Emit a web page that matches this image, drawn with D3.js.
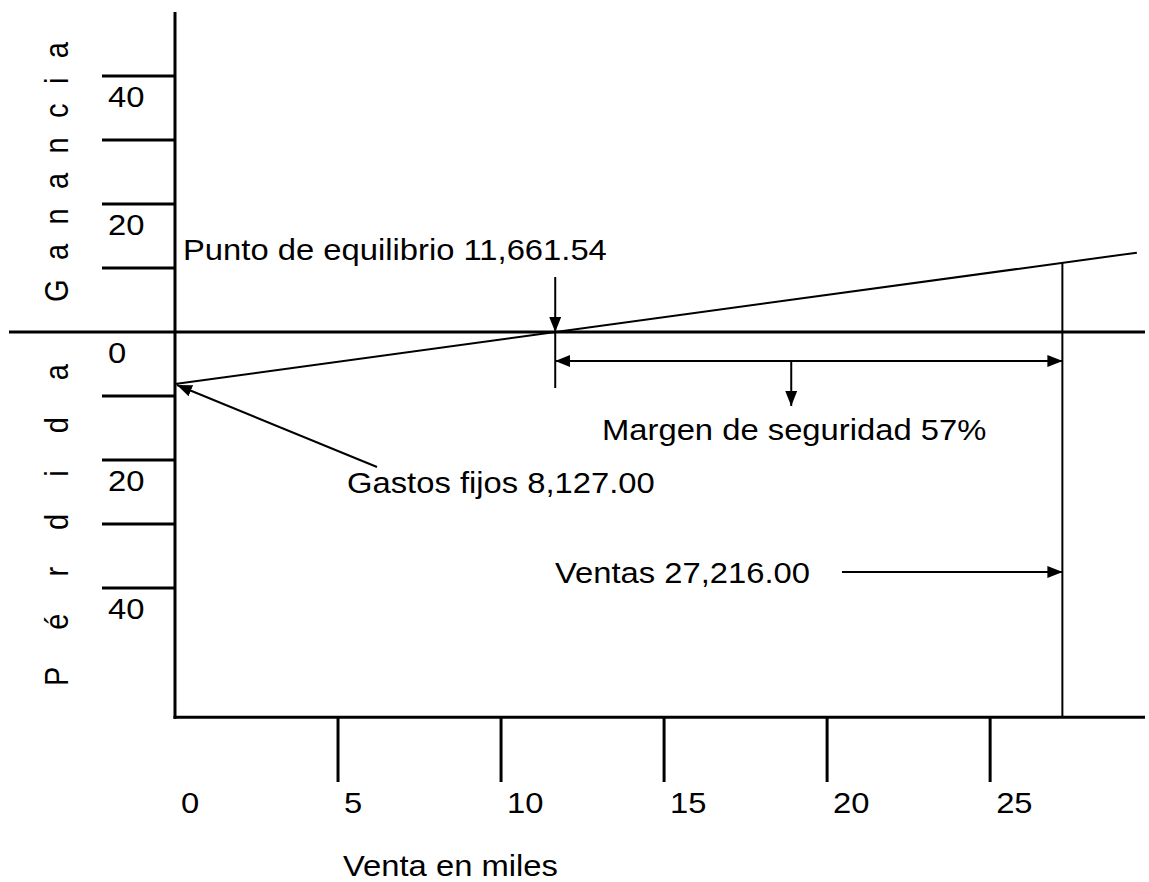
<!DOCTYPE html>
<html><head><meta charset="utf-8">
<script src="https://cdn.jsdelivr.net/npm/d3@7"></script>
<style>
body{margin:0;background:#fff}
text{font-family:"Liberation Sans",Arial,Helvetica,sans-serif;font-size:29px;fill:#000}
</style>
</head><body>
<svg id="c" width="1149" height="882"></svg>
<script>
// ---- data ----
const xTickValues = [5, 10, 15, 20, 25];
const xTickLabels = ["0", "5", "10", "15", "20", "25"];
const xLabelValues = [0, 5, 10, 15, 20, 25];
const yTickValues = [40, 30, 20, 10, -10, -20, -30, -40];
const yLabelValues = [40, 20, 0, -20, -40];
const yLabelTexts = ["40", "20", "0", "20", "40"];
const fixedCosts = 8.127;        // miles
const breakEven = 11.66154;      // miles
const sales = 27.216;            // miles
const profitAtSales = 10.84;     // miles
const profitVentas = [0, 29.5];
const profitGanancia = [-8.127, 12.4];
const marginArrowAt = 18.9;
const texts = {
  yTop: "Ganancia", yBottom: "Pérdida", xTitle: "Venta en miles",
  be: "Punto de equilibrio 11,661.54", margin: "Margen de seguridad 57%",
  fixed: "Gastos fijos 8,127.00", sales: "Ventas 27,216.00"
};

// ---- drawing ----
const SX = 1.13;
const svg = d3.select("#c");
const x = d3.scaleLinear().domain([0, 29.75]).range([175, 1145]);
const y = d3.scaleLinear().domain([-60.2, 50]).range([717.3, 12]);

const defs = svg.append("defs");
defs.append("marker").attr("id", "ah")
  .attr("viewBox", "0 0 15 12").attr("refX", 15).attr("refY", 6)
  .attr("markerWidth", 15).attr("markerHeight", 12)
  .attr("markerUnits", "userSpaceOnUse").attr("orient", "auto-start-reverse")
  .append("path").attr("d", "M0,0L15,6L0,12Z").attr("fill", "#000");

function label(px, py, s) {
  return svg.append("text").attr("transform", `translate(${px},${py}) scale(${SX},1)`).text(s);
}
function seg(x1, y1, x2, y2, w) {
  return svg.append("line").attr("x1", x1).attr("y1", y1).attr("x2", x2).attr("y2", y2)
    .attr("stroke", "#000").attr("stroke-width", w);
}

// y ticks
svg.append("g").selectAll("line").data(yTickValues).join("line")
  .attr("x1", 102).attr("x2", x(0)).attr("y1", d => y(d)).attr("y2", d => y(d))
  .attr("stroke", "#000").attr("stroke-width", 3);
yLabelValues.forEach((v, i) => label(108, y(v) + 31, yLabelTexts[i]));

// x ticks (below axis)
svg.append("g").selectAll("line").data(xTickValues).join("line")
  .attr("x1", d => x(d)).attr("x2", d => x(d)).attr("y1", y(-60.2)).attr("y2", 782)
  .attr("stroke", "#000").attr("stroke-width", 3);
xLabelValues.forEach((v, i) => label(x(v) + 6, 813, xTickLabels[i]));

// axes
seg(x(0), y(50), x(0), y(-60.2) + 1.5, 3);
seg(9, y(0), 1145, y(0), 3);
seg(x(0) - 1.5, y(-60.2), 1145, y(-60.2), 3);

// profit line
const line = d3.line().x((d, i) => x(profitVentas[i])).y((d, i) => y(profitGanancia[i]));
svg.append("path").attr("d", line(profitVentas)).attr("fill", "none").attr("stroke", "#000").attr("stroke-width", 2);

// sales vertical line
seg(x(sales), y(profitAtSales), x(sales), y(-60.2), 2);

// break-even arrow + tick
seg(x(breakEven), 277, x(breakEven), y(0), 2).attr("marker-end", "url(#ah)");
seg(x(breakEven), y(0), x(breakEven), 388, 2);
label(183, 260, texts.be);

// margin double arrow
seg(x(breakEven), 361, x(sales), 361, 2).attr("marker-start", "url(#ah)").attr("marker-end", "url(#ah)");
seg(x(marginArrowAt), 361, x(marginArrowAt), 406, 2).attr("marker-end", "url(#ah)");
label(602, 440, texts.margin);

// fixed costs arrow
seg(377, 467, x(0) + 2, y(-fixedCosts) + 1, 2).attr("marker-end", "url(#ah)");
label(347, 493, texts.fixed);

// sales arrow
seg(842, 572, x(sales), 572, 2).attr("marker-end", "url(#ah)");
label(555, 583, texts.sales);

// axis titles
svg.append("text").attr("transform", `translate(68,302) scale(${SX},1) rotate(-90)`)
  .attr("letter-spacing", "19.4px").text(texts.yTop);
svg.append("text").attr("transform", `translate(68,686) scale(${SX},1) rotate(-90)`)
  .attr("letter-spacing", "37px").text(texts.yBottom);
label(343, 876, texts.xTitle);
</script>
</body></html>
